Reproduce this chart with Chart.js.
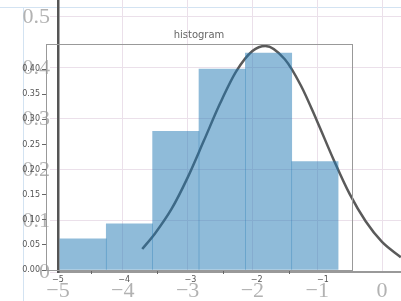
<!DOCTYPE html>
<html>
<head>
<meta charset="utf-8">
<script src="https://cdn.jsdelivr.net/npm/chart.js@4.4.1/dist/chart.umd.min.js"></script>
<style>
  html, body { margin: 0; padding: 0; background: #fff; overflow: hidden; }
  #wrap { position: relative; width: 401px; height: 301px; }
  canvas { position: absolute; left: 0; top: 0; }
  .hline { position: absolute; left: 0; top: 7px; width: 401px; height: 0; border-top: 1px solid #d3e3f2; }
  .vline { position: absolute; left: 23px; top: 7px; width: 0; height: 294px; border-left: 1px solid #d3e3f2; }
</style>
</head>
<body>
<div id="wrap">
  <div class="hline"></div>
  <div class="vline"></div>
  <canvas id="outer" width="401" height="301"></canvas>
  <canvas id="inner" width="401" height="301"></canvas>
</div>
<script>
// outer (big) axes
const outerXTicks = [-5, -4, -3, -2, -1, 0]
const outerYTicks = [0, 0.1, 0.2, 0.3, 0.4, 0.5]

// inner "histogram" axes
const innerXTicks = [-5, -4, -3, -2, -1]
const innerYTicks = [0, 0.05, 0.1, 0.15, 0.2, 0.25, 0.3, 0.35, 0.4]

// histogram bins (centres, bin width 0.7) and heights
const binCenters = [-4.62, -3.92, -3.22, -2.52, -1.82, -1.12]
const binHeights = [0.062, 0.092, 0.276, 0.40, 0.432, 0.216]

// density curve
const curveX = [-3.7, -3.5, -3.25, -3.0, -2.75, -2.5, -2.25, -2.0, -1.8, -1.5, -1.25, -1.0, -0.75, -0.5, -0.25, 0.0, 0.29]
const curveY = [0.045, 0.076, 0.123, 0.185, 0.257, 0.330, 0.393, 0.433, 0.443, 0.417, 0.365, 0.295, 0.221, 0.153, 0.099, 0.059, 0.029]

const minus = v => (v < 0 ? '\u2212' + Math.abs(v) : String(v))
const fixTicks = list => scale => { scale.ticks = list.map(v => ({ value: v })) }
const gridColor = '#ebe0ea'

new Chart(document.getElementById('outer'), {
  type: 'line',
  data: {
    datasets: [{
      data: curveX.map((x, i) => ({ x, y: curveY[i] })),
      borderColor: '#5a5a5a',
      borderWidth: 2.5,
      pointRadius: 0,
      cubicInterpolationMode: 'monotone'
    }]
  },
  options: {
    responsive: false,
    animation: false,
    layout: { padding: 0 },
    plugins: { legend: { display: false }, tooltip: { enabled: false } },
    scales: {
      x: {
        type: 'linear', min: -5, max: 0.293,
        afterBuildTicks: fixTicks(outerXTicks),
        afterFit: s => { s.height = 29; s.paddingLeft = 0; s.paddingRight = 0 },
        grid: { color: gridColor, drawTicks: false },
        border: { color: '#999', width: 2 },
        ticks: {
          padding: 6, maxRotation: 0, autoSkip: false,
          font: { family: 'Liberation Serif', size: 22 }, color: '#b2b2b2',
          callback: v => minus(v)
        }
      },
      y: {
        type: 'linear', min: 0, max: 0.533,
        afterBuildTicks: fixTicks(outerYTicks),
        afterFit: s => { s.width = 58; s.paddingTop = 0; s.paddingBottom = 0 },
        grid: { color: gridColor, tickLength: 8 },
        border: { color: '#555', width: 2.5 },
        ticks: {
          padding: 0, autoSkip: false,
          font: { family: 'Liberation Serif', size: 22 }, color: '#b2b2b2',
          callback: v => String(v)
        }
      }
    }
  }
})

// frame + title for the inner axes
const innerFrame = {
  id: 'innerFrame',
  afterDraw(chart) {
    const { ctx, chartArea: a } = chart
    ctx.save()
    ctx.strokeStyle = '#999'
    ctx.lineWidth = 1
    ctx.strokeRect(a.left + 0.5, a.top + 0.5, a.right - a.left, a.bottom - a.top)
    ctx.fillStyle = '#666'
    ctx.font = '10px "DejaVu Sans"'
    ctx.textAlign = 'center'
    ctx.textBaseline = 'middle'
    ctx.fillText('histogram', (a.left + a.right) / 2, a.top - 9)
    ctx.restore()
  }
}

const smallTicks = {
  padding: 2, maxRotation: 0, autoSkip: false,
  font: { family: 'DejaVu Sans', size: 8 }, color: '#555'
}

new Chart(document.getElementById('inner'), {
  type: 'bar',
  data: {
    datasets: [{
      data: binCenters.map((x, i) => ({ x, y: binHeights[i] })),
      backgroundColor: 'rgba(31, 119, 180, 0.5)',
      borderWidth: 0,
      barPercentage: 1,
      categoryPercentage: 1
    }]
  },
  options: {
    responsive: false,
    animation: false,
    layout: { padding: { top: 44, right: 49, left: 0, bottom: 0 } },
    plugins: { legend: { display: false }, tooltip: { enabled: false } },
    scales: {
      x: {
        type: 'linear', min: -5.18, max: -0.56, offset: false,
        afterBuildTicks: fixTicks(innerXTicks),
        afterFit: s => { s.height = 31 },
        grid: { drawOnChartArea: false, tickLength: 4, color: '#666' },
        border: { color: '#888', width: 1 },
        ticks: { ...smallTicks, padding: 1, callback: v => minus(v) }
      },
      y: {
        type: 'linear', min: 0, max: 0.45,
        afterBuildTicks: fixTicks(innerYTicks),
        afterFit: s => { s.width = 46 },
        grid: { drawOnChartArea: false, tickLength: 4, color: '#666' },
        border: { color: '#888', width: 1 },
        ticks: { ...smallTicks, callback: v => v.toFixed(2) }
      }
    }
  },
  plugins: [innerFrame]
})
</script>
</body>
</html>
